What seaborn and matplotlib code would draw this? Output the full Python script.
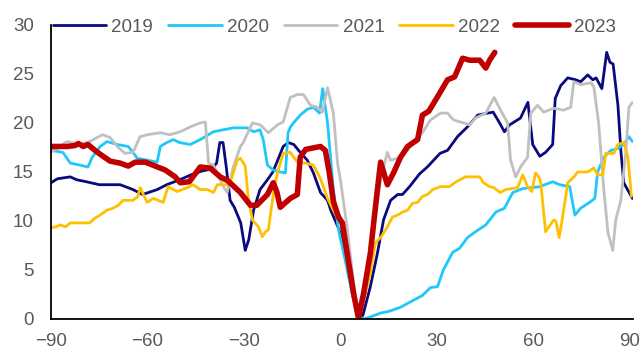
import matplotlib
matplotlib.use("Agg")
import matplotlib.pyplot as plt
import seaborn as sns
import pandas as pd

# Days relative to the holiday (x) and index level (y) for each year
x_2019 = [-90, -88, -84, -82, -79, -75, -68.5, -64.5, -61.5, -57, -54, -50, -46.5, -43, -40, -38.5,
          -37.5, -36.5, -35.5, -34.3, -33, -31, -29.6, -28.5, -27, -25, -22.7, -21, -19.5, -17.8,
          -16.2, -14.5, -12.5, -10.3, -8.4, -6.2, -4, -3, 0, 2, 4, 5.6, 7, 9.3, 11.5, 13.4, 15.6,
          17.8, 19.3, 21.5, 24.6, 27, 31, 33.3, 36.4, 39.5, 42.7, 45.8, 47.5, 49.5, 51, 52.6, 56,
          58.3, 59.8, 62, 63.8, 66, 66.8, 68.5, 70.7, 73.2, 74.7, 76.9, 78.5, 79.5, 81.3, 82.8,
          83.8, 84.8, 86.3, 87.2, 88.1, 90.8]
y_2019 = [13.9, 14.3, 14.5, 14.2, 14.0, 13.7, 13.7, 13.2, 12.7, 13.2, 13.7, 14.2, 14.7, 15.1, 15.3, 15.9,
          18.0, 18.0, 15.5, 12.1, 11.4, 9.8, 7.0, 8.1, 11.1, 13.2, 14.2, 15.0, 16.2, 17.6,
          18.0, 17.8, 17.0, 16.2, 14.9, 12.9, 12.1, 11.1, 8.8, 5.5, 2.2, 0.0, 0.4, 3.3, 6.7, 10.1, 12.1,
          12.7, 12.7, 13.5, 14.8, 15.5, 16.9, 17.2, 18.6, 19.6, 20.8, 21.0, 21.1, 20.0, 19.1, 19.8, 20.5,
          22.1, 17.8, 16.6, 17.0, 17.8, 22.5, 23.8, 24.6, 24.4, 24.2, 24.9, 24.4, 24.6, 23.5, 27.2,
          26.2, 26.0, 21.8, 17.2, 13.9, 12.3]

x_2020 = [-90, -86.3, -84, -81, -78.5, -77.2, -74.7, -72.6, -69.4, -66, -64.5, -63.2, -60, -57, -56,
          -54, -52, -50, -46.7, -43.6, -39.5, -36.4, -33.3, -29, -27, -25, -24, -22.7, -20.9, -18.7,
          -17.1, -16.3, -15.5, -14.6, -12.5, -10.3, -8.4, -6.5, -5.5, -4, -2.2, -0.6, 1.5, 3.5, 5.6,
          8.4, 12.5, 15.3, 18.7, 21.5, 25.5, 28, 30.2, 32, 34.9, 37, 39.5, 42, 45.2, 48.3, 51, 53.6,
          56.7, 62, 66, 68.2, 71.3, 72.9, 74.7, 77.5, 79.1, 80, 81.9, 84.1, 86.3, 88.1, 89.7, 90.8]
y_2020 = [17.2, 17.0, 15.9, 15.7, 15.5, 16.5, 17.6, 18.1, 17.8, 17.6, 17.0, 16.4, 16.2, 16.0, 17.6,
          18.0, 18.3, 18.0, 17.8, 18.3, 19.1, 19.3, 19.5, 19.5, 19.1, 19.3, 18.3, 15.7, 15.2, 15.0,
          14.9, 19.0, 19.6, 20.0, 20.8, 21.4, 21.6, 21.0, 23.5, 20.0, 13.2, 9.1, 6.0, 2.8, 0.0,
          0.1, 0.6, 0.8, 1.2, 1.7, 2.4, 3.2, 3.3, 5.0, 6.8, 7.2, 8.3, 8.9, 9.6, 10.9, 11.3, 12.9,
          13.3, 13.5, 14.0, 13.7, 13.5, 10.6, 11.3, 11.9, 12.3, 15.0, 16.5, 17.2, 17.4, 17.8, 18.6, 18.1]

x_2021 = [-90, -85, -81, -78, -74, -71.6, -69.4, -67, -64.5, -62.3, -60, -56, -53, -49.8, -46.7, -43.6,
          -42, -41, -39.5, -37.4, -36.4, -35.2, -33.3, -31.1, -30.2, -27.4, -24.9, -22.4, -19.6, -17.8,
          -15.6, -13.4, -11.5, -9.3, -7.2, -5.6, -4, -2.2, -0.9, 0, 2, 4, 5.6, 7.5, 9.3, 11.5, 12.5,
          14.6, 15.6, 17.8, 20.9, 22.7, 25.5, 28, 31.1, 33.3, 35.2, 38.3, 40.2, 42, 45.2, 47.8, 49.8,
          52, 52.9, 54.5, 56, 58.2, 59.2, 61.3, 63.2, 66.3, 69.4, 71.6, 72.6, 74.7, 77.9, 78.8, 80.3,
          81.9, 83.2, 84.7, 85.6, 87.2, 88.8, 89.7, 90.8]
y_2021 = [17.0, 18.1, 17.8, 18.1, 18.8, 18.5, 17.6, 16.9, 17.0, 18.6, 18.8, 19.0, 18.8, 19.1, 19.6, 20.0,
          20.1, 15.9, 15.7, 14.2, 13.5, 12.9, 15.5, 17.6, 18.0, 20.0, 19.8, 19.0, 19.8, 20.1,
          22.6, 22.9, 22.9, 21.8, 21.6, 21.1, 23.6, 21.0, 15.9, 14.2, 9.5, 4.0, 0.0, 2.5, 6.7, 12.0, 14.2,
          17.0, 16.2, 16.4, 17.2, 18.0, 19.0, 20.3, 21.0, 21.0, 20.3, 20.0, 19.8, 20.5, 21.0, 22.6, 21.3,
          20.0, 16.2, 14.5, 15.5, 16.5, 21.0, 21.8, 21.1, 21.5, 21.3, 21.6, 24.2, 23.9, 24.1, 23.7, 20.0,
          13.2, 8.8, 7.0, 10.1, 12.1, 17.2, 21.6, 22.1]

x_2022 = [-90, -88.5, -87.2, -85.5, -84, -78, -76.3, -74.7, -72.6, -70.7, -69.1, -67.6, -64.5, -63, -62.3,
          -60.1, -58.2, -56.7, -55.1, -53.6, -50.8, -47.6, -45.8, -43.6, -41.4, -39.5, -38.3, -35.2,
          -34.3, -32.1, -31.1, -29.6, -28.7, -27.4, -25.5, -24.3, -23.3, -22.4, -21.7, -20.5, -19.6,
          -17.8, -15.6, -13.4, -10.9, -8.4, -6.2, -4, -2.2, 0, 2, 4, 5.6, 7.5, 9.3, 10.9, 12.5, 14.6,
          16.2, 17.8, 19.3, 20.9, 22.4, 24, 25.5, 27.1, 28.7, 31.1, 33.9, 36, 38.9, 43.3, 44.5, 46.4,
          47.7, 49.7, 51.4, 55.1, 56.7, 58.2, 59.5, 60.7, 61.7, 62.3, 63.8, 66.3, 67, 68, 68.8, 70.7,
          72.6, 73.8, 76.9, 78.8, 80, 81.6, 82.5, 85, 86.3, 88.1, 89.4, 90.5]
y_2022 = [9.3, 9.4, 9.6, 9.4, 9.8, 9.8, 10.3, 10.6, 11.1, 11.3, 11.6, 12.1, 12.1, 12.5, 13.4,
          11.9, 12.3, 12.1, 11.9, 13.5, 13.0, 13.4, 13.7, 13.2, 13.2, 12.9, 13.7, 13.7,
          13.9, 16.2, 16.4, 15.6, 12.5, 10.1, 9.4, 8.4, 8.9, 9.1, 10.8, 13.5, 14.9,
          16.9, 17.0, 16.0, 15.9, 15.7, 14.3, 12.3, 11.1, 9.8, 7.0, 3.2, 0.0, 2.2, 4.7, 7.8, 8.3, 9.4,
          10.4, 10.6, 10.9, 11.1, 11.8, 11.9, 12.5, 12.7, 13.2, 13.5, 13.5, 14.0, 14.5, 14.5, 13.9, 13.5,
          13.4, 12.9, 13.2, 13.4, 14.7, 13.5, 13.0, 14.9, 14.5, 13.9, 8.9, 10.1, 10.0, 8.3, 9.8, 13.9,
          14.5, 15.0, 15.0, 15.4, 14.7, 14.7, 16.9, 16.9, 17.8, 18.0, 16.5, 12.5]

x_2023 = [-90, -85, -82.5, -81.5, -80, -78.5, -76.3, -74.7, -71.6, -68.5, -66, -63.8, -60.7, -57.6,
          -54.5, -51.4, -49.8, -47, -43.6, -40.5, -37.4, -35, -31.1, -28, -26, -22.7, -20.9, -19.8,
          -18.7, -15.6, -13.4, -12.5, -10.8, -9.3, -6.2, -4.7, -3.5, -2.2, -0.6, 0.6, 2.1, 4.1, 5.6,
          7.2, 9.3, 11.5, 12.5, 14.6, 16.5, 18.7, 20.9, 24, 25.5, 27.5, 30.8, 33.3, 35.5, 38, 40.2,
          43.3, 45.2, 46.4, 48]
y_2023 = [17.6, 17.6, 17.7, 17.9, 17.6, 17.8, 17.2, 16.8, 16.1, 15.9, 15.6, 16.0, 16.0, 15.6,
          15.2, 14.5, 13.9, 14.0, 15.5, 15.4, 14.5, 14.1, 12.9, 11.6, 11.6, 12.7, 13.9, 13.0,
          11.4, 12.3, 12.7, 16.5, 17.3, 17.4, 17.6, 17.2, 15.0, 12.0, 10.4, 9.8, 6.7, 2.6, 0.1,
          2.6, 6.7, 13.2, 16.0, 13.7, 14.9, 16.5, 17.6, 18.3, 20.8, 21.2, 23.0, 24.4, 24.7, 26.6, 26.4,
          26.4, 25.6, 26.4, 27.2]

years = ["2019", "2020", "2021", "2022", "2023"]
xs = [x_2019, x_2020, x_2021, x_2022, x_2023]
ys = [y_2019, y_2020, y_2021, y_2022, y_2023]
colors = ["#0A0A80", "#1EC8FA", "#C0C0C0", "#FFC000", "#C00000"]
widths = [2.0, 2.0, 2.0, 2.0, 4.0]

frames = [pd.DataFrame({"day": x, "value": y, "year": yr}) for x, y, yr in zip(xs, ys, years)]
df = pd.concat(frames, ignore_index=True)

sns.set_style("white")
plt.rcParams["font.family"] = ["Liberation Sans", "DejaVu Sans"]

fig = plt.figure(figsize=(6.44, 3.56), dpi=100)
ax = fig.add_axes([0.0792, 0.104, 0.9038, 0.826])

for yr, col, lw in zip(years, colors, widths):
    sns.lineplot(data=df[df["year"] == yr], x="day", y="value", color=col,
                 linewidth=lw, ax=ax, label=yr, estimator=None,
                 solid_joinstyle="round", solid_capstyle="round")

ax.set_xlim(-90, 91)
ax.set_ylim(0, 30)
ax.set_xticks([-90, -60, -30, 0, 30, 60, 90])
ax.set_yticks([0, 5, 10, 15, 20, 25, 30])
ax.set_xlabel("")
ax.set_ylabel("")

for side in ["top", "right"]:
    ax.spines[side].set_visible(False)
for side in ["left", "bottom"]:
    ax.spines[side].set_color("black")
    ax.spines[side].set_linewidth(1.3)

ax.tick_params(axis="both", which="major", direction="out", length=4.3, width=1.0,
               color="black", labelcolor="#595959", labelsize=13.5)
ax.tick_params(axis="y", pad=8)
ax.tick_params(axis="x", pad=6)

leg = ax.legend(loc="center left", bbox_to_anchor=(0.082, 0.924),
                bbox_transform=fig.transFigure, ncol=5, frameon=False,
                fontsize=13.5, handlelength=2.85, handletextpad=0.28,
                columnspacing=0.8, borderpad=0, borderaxespad=0)
for t in leg.get_texts():
    t.set_color("#595959")

fig.savefig("out.png", dpi=100, facecolor="white")
